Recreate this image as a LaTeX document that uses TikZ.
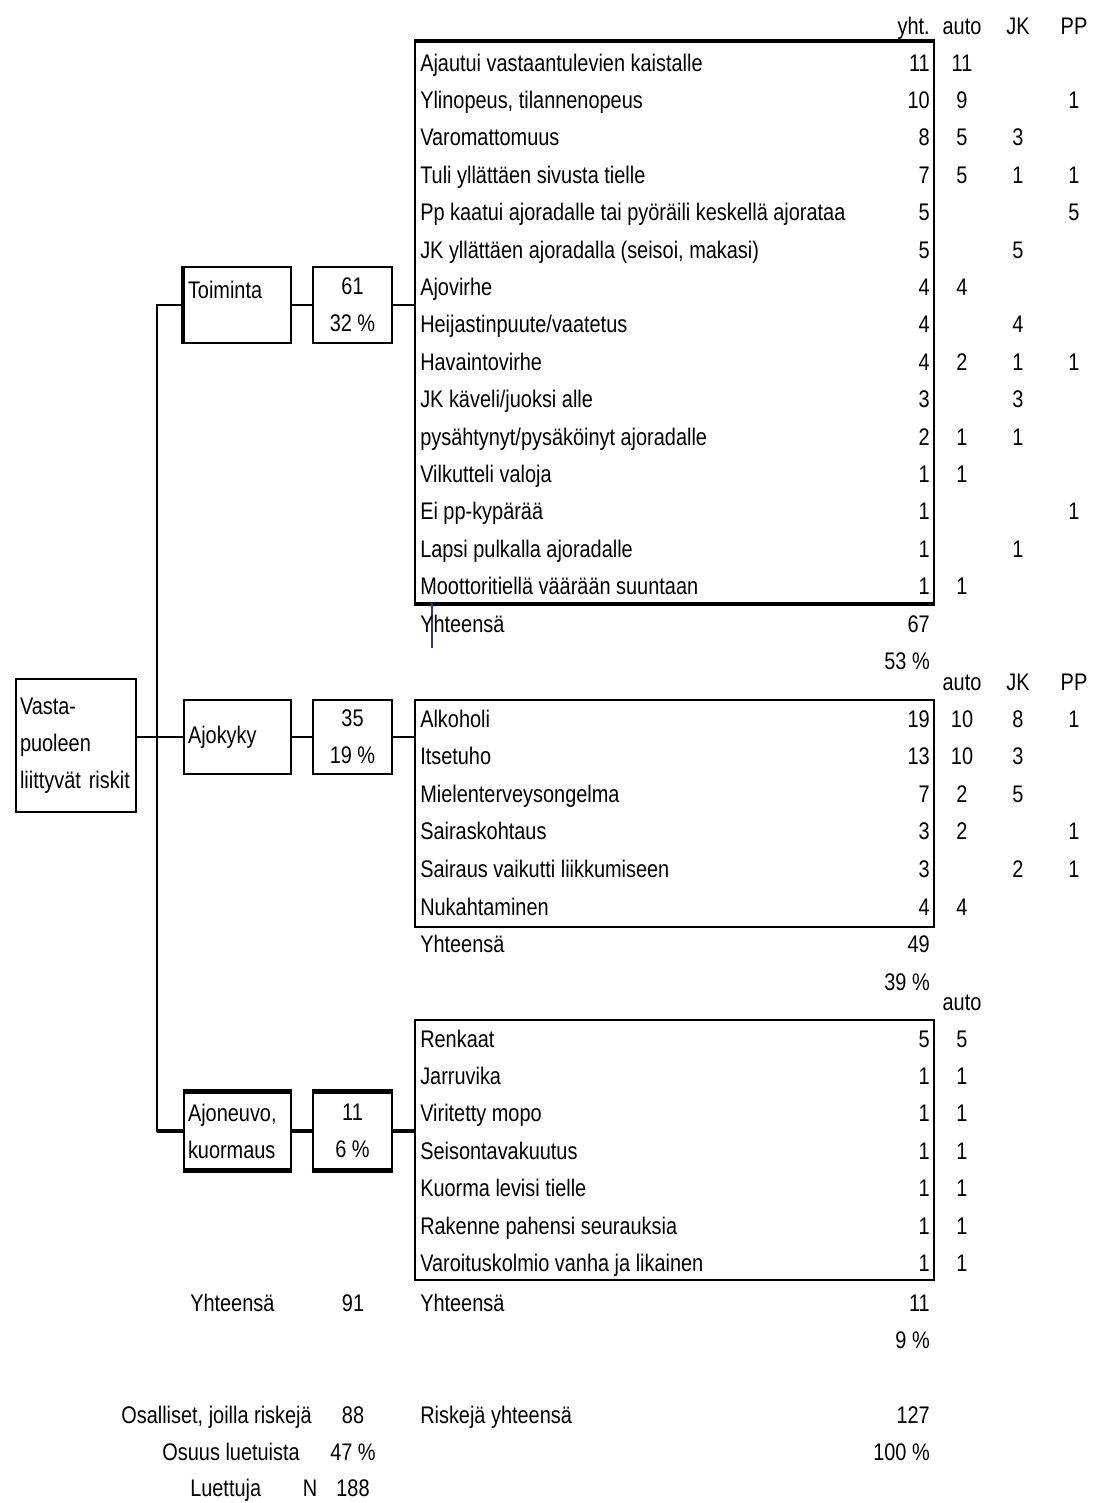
\documentclass[tikz,border=0pt]{standalone}
\usepackage{fontspec}
\setmainfont{Liberation Sans}[FakeStretch=0.83]
\usepackage{tikz}
\usepackage{xcolor}

\begin{document}
\begin{tikzpicture}[x=0.75pt,y=0.75pt,yscale=-1,
  every node/.style={font=\fontsize{18}{27.75}\selectfont},
  frame/.style={draw, line width=1.5pt, inner sep=0pt},
  heavy/.style={line width=3.5pt},
  lbl/.style={anchor=base west, inner sep=0pt},
  sum/.style={anchor=base east, inner sep=0pt},
  col/.style={anchor=base, inner sep=0pt}]
\useasboundingbox (0,0) rectangle (1096,1503);

%Shape: Rectangle (root)
\node[frame, minimum width=90pt, minimum height=99.75pt, text width=84pt, inner xsep=3pt, align=left] (root) at (76,745.5) {Vasta-\\puoleen\\liittyvät riskit};

%Shape: Rectangle (categories)
\node[frame, minimum width=80.25pt, minimum height=57pt, text width=74.25pt, inner xsep=3pt, align=left] (cat1) at (237.5,305) {Toiminta\\[-13.5pt]\strut};
\node[frame, minimum width=59.25pt, minimum height=57pt, align=center] (num1) at (352.5,305) {61\\32 \%};
\node[frame, minimum width=80.25pt, minimum height=55.5pt, text width=74.25pt, inner xsep=3pt, align=left] (cat2) at (237.5,737) {Ajokyky};
\node[frame, minimum width=59.25pt, minimum height=55.5pt, align=center] (num2) at (352.5,737) {35\\19 \%};
\node[frame, line width=2.2pt, minimum width=80.25pt, minimum height=57pt, text width=74.25pt, inner xsep=3pt, align=left] (cat3) at (237.5,1131) {Ajoneuvo,\\kuormaus};
\node[frame, line width=2.2pt, minimum width=59.25pt, minimum height=57pt, align=center] (num3) at (352.5,1131) {11\\6 \%};

%Shape: Rectangle (lists)
\node[frame, minimum width=389.25pt, minimum height=420.75pt] (b1) at (674.5,322.5) {};
\node[frame, minimum width=389.25pt, minimum height=170.25pt] (b2) at (674.5,813.5) {};
\node[frame, minimum width=389.25pt, minimum height=195pt] (b3) at (674.5,1150) {};
\draw[heavy] (b1.north west) -- (b1.north east);
\draw[heavy] (b1.south west) -- (b1.south east);
\draw[line width=3pt] (cat1.north west) -- (cat1.south west);
\draw[line width=3.5pt] (cat3.north west) -- (cat3.north east);
\draw[line width=3.5pt] (cat3.south west) -- (cat3.south east);
\draw[line width=3.5pt] (num3.north west) -- (num3.north east);
\draw[line width=3.5pt] (num3.south west) -- (num3.south east);

%Straight Lines
\draw[line width=1.5pt] (root.east |- cat2.west) -- (cat2.west);
\draw[line width=1.5pt] (cat1.west) -- ++(-26,0) |- (cat3.west);
\draw[line width=2.5pt] (cat3.west) -- ++(-26,0);
\draw[line width=1.5pt] (cat1.east) -- (num1.west);
\draw[line width=1.5pt] (num1.east) -- (num1.east -| b1.west);
\draw[line width=1.5pt] (cat2.east) -- (num2.west);
\draw[line width=1.5pt] (num2.east) -- (num2.east -| b2.west);
\draw[line width=2.5pt] (cat3.east) -- (num3.west);
\draw[line width=3pt] (num3.east) -- (num3.east -| b3.west);
\draw[draw={rgb, 255:red, 40; green, 60; blue, 120}, line width=1pt] (432,603) -- (432,648);

% Text Node (headers)
\node[sum] (hy1) at (930,34) {yht.};
\node[col] (ha1) at (962,34) {auto};
\node[col] (hj1) at (1018,34) {JK};
\node[col] (hp1) at (1074,34) {PP};

% Text Node (Toiminta)
\node[lbl] (t1) at (420,71) {Ajautui vastaantulevien kaistalle}; \node[sum] (t1y) at (930,71) {11}; \node[col] (t1a) at (962,71) {11};
\node[lbl] (t2) at (420,108.4) {Ylinopeus, tilannenopeus}; \node[sum] (t2y) at (930,108.4) {10}; \node[col] (t2a) at (962,108.4) {9}; \node[col] (t2p) at (1074,108.4) {1};
\node[lbl] (t3) at (420,145.8) {Varomattomuus}; \node[sum] (t3y) at (930,145.8) {8}; \node[col] (t3a) at (962,145.8) {5}; \node[col] (t3j) at (1018,145.8) {3};
\node[lbl] (t4) at (420,183.2) {Tuli yllättäen sivusta tielle}; \node[sum] (t4y) at (930,183.2) {7}; \node[col] (t4a) at (962,183.2) {5}; \node[col] (t4j) at (1018,183.2) {1}; \node[col] (t4p) at (1074,183.2) {1};
\node[lbl] (t5) at (420,220.6) {Pp kaatui ajoradalle tai pyöräili keskellä ajorataa}; \node[sum] (t5y) at (930,220.6) {5}; \node[col] (t5p) at (1074,220.6) {5};
\node[lbl] (t6) at (420,258) {JK yllättäen ajoradalla (seisoi, makasi)}; \node[sum] (t6y) at (930,258) {5}; \node[col] (t6j) at (1018,258) {5};
\node[lbl] (t7) at (420,295.4) {Ajovirhe}; \node[sum] (t7y) at (930,295.4) {4}; \node[col] (t7a) at (962,295.4) {4};
\node[lbl] (t8) at (420,332.8) {Heijastinpuute/vaatetus}; \node[sum] (t8y) at (930,332.8) {4}; \node[col] (t8j) at (1018,332.8) {4};
\node[lbl] (t9) at (420,370.2) {Havaintovirhe}; \node[sum] (t9y) at (930,370.2) {4}; \node[col] (t9a) at (962,370.2) {2}; \node[col] (t9j) at (1018,370.2) {1}; \node[col] (t9p) at (1074,370.2) {1};
\node[lbl] (t10) at (420,407.6) {JK käveli/juoksi alle}; \node[sum] (t10y) at (930,407.6) {3}; \node[col] (t10j) at (1018,407.6) {3};
\node[lbl] (t11) at (420,445) {pysähtynyt/pysäköinyt ajoradalle}; \node[sum] (t11y) at (930,445) {2}; \node[col] (t11a) at (962,445) {1}; \node[col] (t11j) at (1018,445) {1};
\node[lbl] (t12) at (420,482.4) {Vilkutteli valoja}; \node[sum] (t12y) at (930,482.4) {1}; \node[col] (t12a) at (962,482.4) {1};
\node[lbl] (t13) at (420,519.8) {Ei pp-kypärää}; \node[sum] (t13y) at (930,519.8) {1}; \node[col] (t13p) at (1074,519.8) {1};
\node[lbl] (t14) at (420,557.2) {Lapsi pulkalla ajoradalle}; \node[sum] (t14y) at (930,557.2) {1}; \node[col] (t14j) at (1018,557.2) {1};
\node[lbl] (t15) at (420,594.6) {Moottoritiellä väärään suuntaan}; \node[sum] (t15y) at (930,594.6) {1}; \node[col] (t15a) at (962,594.6) {1};
\node[lbl] (tsum) at (420,632) {Yhteensä}; \node[sum] (tsumy) at (930,632) {67};
\node[sum] (tpct) at (930,669) {53 \%};

% Text Node (Ajokyky)
\node[col] (ha2) at (962,690) {auto};
\node[col] (hj2) at (1018,690) {JK};
\node[col] (hp2) at (1074,690) {PP};
\node[lbl] (k1) at (420,727) {Alkoholi}; \node[sum] (k1y) at (930,727) {19}; \node[col] (k1a) at (962,727) {10}; \node[col] (k1j) at (1018,727) {8}; \node[col] (k1p) at (1074,727) {1};
\node[lbl] (k2) at (420,764.6) {Itsetuho}; \node[sum] (k2y) at (930,764.6) {13}; \node[col] (k2a) at (962,764.6) {10}; \node[col] (k2j) at (1018,764.6) {3};
\node[lbl] (k3) at (420,802.2) {Mielenterveysongelma}; \node[sum] (k3y) at (930,802.2) {7}; \node[col] (k3a) at (962,802.2) {2}; \node[col] (k3j) at (1018,802.2) {5};
\node[lbl] (k4) at (420,839.8) {Sairaskohtaus}; \node[sum] (k4y) at (930,839.8) {3}; \node[col] (k4a) at (962,839.8) {2}; \node[col] (k4p) at (1074,839.8) {1};
\node[lbl] (k5) at (420,877.4) {Sairaus vaikutti liikkumiseen}; \node[sum] (k5y) at (930,877.4) {3}; \node[col] (k5j) at (1018,877.4) {2}; \node[col] (k5p) at (1074,877.4) {1};
\node[lbl] (k6) at (420,915) {Nukahtaminen}; \node[sum] (k6y) at (930,915) {4}; \node[col] (k6a) at (962,915) {4};
\node[lbl] (ksum) at (420,952) {Yhteensä}; \node[sum] (ksumy) at (930,952) {49};
\node[sum] (kpct) at (930,990) {39 \%};

% Text Node (Ajoneuvo)
\node[col] (ha3) at (962,1010) {auto};
\node[lbl] (n1) at (420,1047) {Renkaat}; \node[sum] (n1y) at (930,1047) {5}; \node[col] (n1a) at (962,1047) {5};
\node[lbl] (n2) at (420,1084.4) {Jarruvika}; \node[sum] (n2y) at (930,1084.4) {1}; \node[col] (n2a) at (962,1084.4) {1};
\node[lbl] (n3) at (420,1121.8) {Viritetty mopo}; \node[sum] (n3y) at (930,1121.8) {1}; \node[col] (n3a) at (962,1121.8) {1};
\node[lbl] (n4) at (420,1159.2) {Seisontavakuutus}; \node[sum] (n4y) at (930,1159.2) {1}; \node[col] (n4a) at (962,1159.2) {1};
\node[lbl] (n5) at (420,1196.6) {Kuorma levisi tielle}; \node[sum] (n5y) at (930,1196.6) {1}; \node[col] (n5a) at (962,1196.6) {1};
\node[lbl] (n6) at (420,1234) {Rakenne pahensi seurauksia}; \node[sum] (n6y) at (930,1234) {1}; \node[col] (n6a) at (962,1234) {1};
\node[lbl] (n7) at (420,1271.4) {Varoituskolmio vanha ja likainen}; \node[sum] (n7y) at (930,1271.4) {1}; \node[col] (n7a) at (962,1271.4) {1};
\node[lbl] (nsum) at (420,1311) {Yhteensä}; \node[sum] (nsumy) at (930,1311) {11};
\node[sum] (npct) at (930,1348) {9 \%};

% Text Node (totals)
\node[lbl] (allsum) at (190,1311) {Yhteensä}; \node[col] (allsumn) at (353,1311) {91};
\node[sum] (osal) at (312,1423) {Osalliset, joilla riskejä}; \node[col] (osaln) at (353,1423) {88};
\node[lbl] (risk) at (420,1423) {Riskejä yhteensä}; \node[sum] (riskn) at (930,1423) {127};
\node[sum] (osuus) at (300,1460) {Osuus luetuista}; \node[col] (osuusn) at (353,1460) {47 \%};
\node[sum] (riskpct) at (930,1460) {100 \%};
\node[lbl] (luet) at (190,1496) {Luettuja}; \node[col] (luetN) at (310,1496) {N}; \node[col] (luetn) at (353,1496) {188};

\end{tikzpicture}
\end{document}
